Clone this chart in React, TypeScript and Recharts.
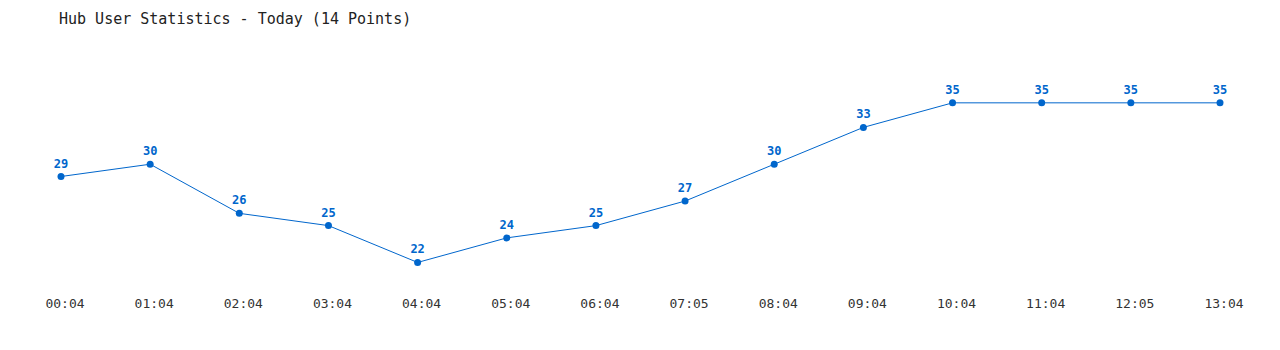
import { LineChart, Line, XAxis, YAxis, LabelList } from 'recharts';

const times = ['00:04', '01:04', '02:04', '03:04', '04:04', '05:04', '06:04', '07:05', '08:04', '09:04', '10:04', '11:04', '12:05', '13:04'];
const users = [29, 30, 26, 25, 22, 24, 25, 27, 30, 33, 35, 35, 35, 35];

const data = times.map((t, i) => ({ time: t, users: users[i] }));

const BLUE = '#0066cc';
const MONO = '"DejaVu Sans Mono", "Liberation Mono", monospace';

export default function App() {
  return (
    <div style={{ position: 'relative', width: 1264, height: 334, fontFamily: MONO }}>
      <div style={{ position: 'absolute', left: 51, top: 2, fontSize: 15, color: '#222', whiteSpace: 'pre' }}>
        Hub User Statistics - Today (14 Points)
      </div>
      <LineChart width={1264} height={334} data={data} margin={{ top: 58, right: 52, bottom: 25, left: 53 }}>
        <XAxis
          dataKey="time"
          axisLine={false}
          tickLine={false}
          tickSize={0}
          tickMargin={12}
          height={30}
          interval={0}
          dx={4}
          tick={{ fill: '#333', fontSize: 13, fontFamily: MONO }}
        />
        <YAxis hide domain={[20, 38]} />
        <Line
          type="linear"
          dataKey="users"
          stroke={BLUE}
          strokeWidth={1}
          dot={{ r: 3.5, fill: BLUE, stroke: BLUE, strokeWidth: 0 }}
          activeDot={false}
          isAnimationActive={false}
        >
          <LabelList dataKey="users" position="top" offset={9} fill={BLUE} fontSize={12} fontWeight="bold" fontFamily={MONO} />
        </Line>
      </LineChart>
    </div>
  );
}
